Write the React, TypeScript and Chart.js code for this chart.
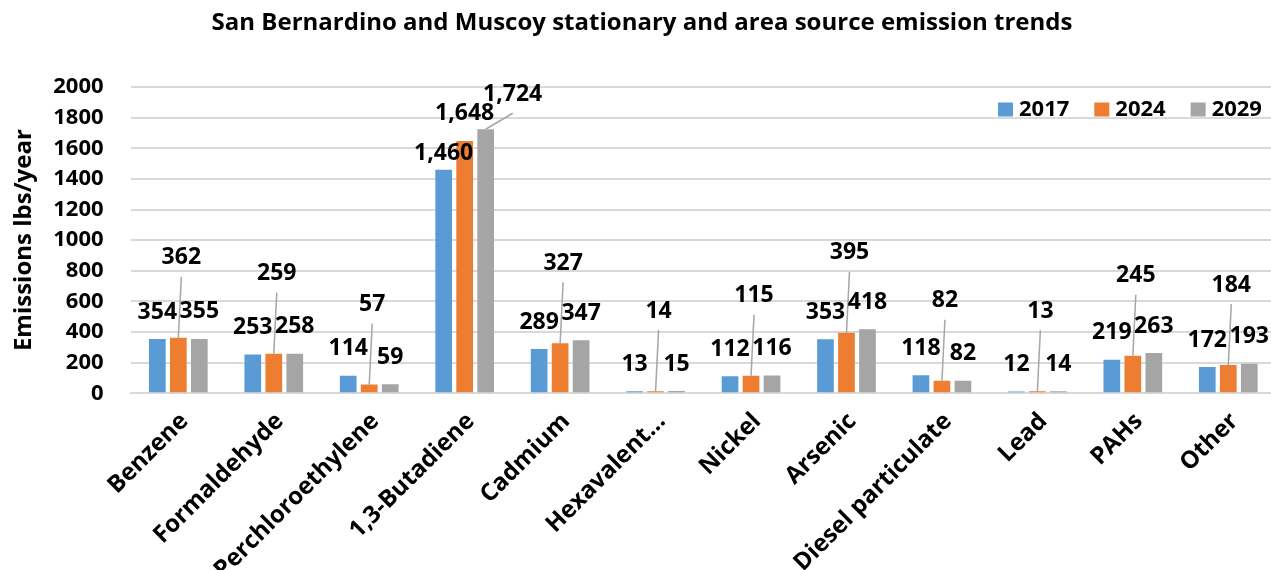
import React, { useEffect, useRef } from "react";
import { Chart, registerables } from "chart.js";

Chart.register(...registerables);

const categories = [
  "Benzene",
  "Formaldehyde",
  "Perchloroethylene",
  "1,3-Butadiene",
  "Cadmium",
  "Hexavalent…",
  "Nickel",
  "Arsenic",
  "Diesel particulate",
  "Lead",
  "PAHs",
  "Other",
];
const seriesNames = ["2017", "2024", "2029"];
const values2017 = [354, 253, 114, 1460, 289, 13, 112, 353, 118, 12, 219, 172];
const values2024 = [362, 259, 57, 1648, 327, 14, 115, 395, 82, 13, 245, 184];
const values2029 = [355, 258, 59, 1724, 347, 15, 116, 418, 82, 14, 263, 193];
const yMin = 0;
const yMax = 2000;
const yStep = 200;

const TITLE = "San Bernardino and Muscoy stationary and area source emission trends";
const Y_TITLE = "Emissions lbs/year";
const COLORS = ["#5B9BD5", "#ED7D31", "#A5A5A5"];
const FONT = "'Open Sans', Lato, sans-serif";
const GRID = "#D9D9D9";
const LEADER = "#A6A6A6";

const fmt = (v: number) => v.toLocaleString("en-US");

const decorPlugin = {
  id: "decor",
  afterDatasetsDraw(chart: any) {
    const ctx = chart.ctx as CanvasRenderingContext2D;
    ctx.save();
    ctx.font = `bold 23px ${FONT}`;
    ctx.textAlign = "center";
    ctx.textBaseline = "middle";
    chart.data.datasets.forEach((ds: any, di: number) => {
      const meta = chart.getDatasetMeta(di);
      meta.data.forEach((bar: any, i: number) => {
        const v = ds.data[i] as number;
        const crowded = categories[i] === "1,3-Butadiene";
        let x = bar.x;
        let y = bar.y - 27;
        let leader = false;
        if (di === 1) {
          if (crowded) {
            y = bar.y - 27;
          } else {
            x = bar.x + 3;
            y = bar.y - 80;
            leader = true;
          }
        }
        if (crowded && di === 0) y = bar.y - 16;
        if (crowded && di === 2) {
          x = bar.x + 27;
          y = bar.y - 35;
          leader = true;
        }
        if (leader) {
          ctx.strokeStyle = LEADER;
          ctx.lineWidth = 1.5;
          ctx.beginPath();
          ctx.moveTo(bar.x, bar.y);
          ctx.lineTo(x, y + 19);
          ctx.stroke();
        }
        ctx.fillStyle = "#000";
        ctx.fillText(fmt(v), x, y);
      });
    });
    ctx.restore();
  },
  afterDraw(chart: any) {
    const ctx = chart.ctx as CanvasRenderingContext2D;
    ctx.save();
    // title
    ctx.fillStyle = "#000";
    ctx.font = `bold 24px ${FONT}`;
    ctx.textAlign = "center";
    ctx.textBaseline = "middle";
    ctx.fillText(TITLE, 642, 23);
    // y axis title
    ctx.save();
    ctx.translate(24, (chart.chartArea.top + chart.chartArea.bottom) / 2);
    ctx.rotate(-Math.PI / 2);
    ctx.font = `bold 24px ${FONT}`;
    ctx.fillText(Y_TITLE, 0, 0);
    ctx.restore();
    // legend
    ctx.font = `bold 22px ${FONT}`;
    ctx.textAlign = "left";
    let lx = 998;
    const ly = 109.5;
    chart.data.datasets.forEach((ds: any) => {
      ctx.fillStyle = ds.backgroundColor;
      ctx.fillRect(lx, ly - 7, 15, 14);
      ctx.fillStyle = "#000";
      ctx.fillText(ds.label, lx + 21, ly);
      lx += 21 + ctx.measureText(ds.label).width + 25;
    });
    ctx.restore();
  },
};

export default function App() {
  const ref = useRef<HTMLCanvasElement | null>(null);
  useEffect(() => {
    if (!ref.current) return;
    const seriesValues = [values2017, values2024, values2029];
    const chart = new Chart(ref.current, {
      type: "bar",
      data: {
        labels: categories,
        datasets: seriesNames.map((name, k) => ({
          label: name,
          data: seriesValues[k],
          backgroundColor: COLORS[k],
          borderWidth: 0,
          barPercentage: 0.795,
          categoryPercentage: 0.66,
        })),
      },
      options: {
        responsive: false,
        animation: false,
        devicePixelRatio: 1,
        layout: { padding: { top: 87, left: 0, right: 0, bottom: 0 } },
        plugins: {
          legend: { display: false },
          title: { display: false },
          tooltip: { enabled: false },
        },
        scales: {
          x: {
            grid: { display: false },
            border: { display: true, color: GRID, width: 2 },
            ticks: {
              autoSkip: false,
              minRotation: 45,
              maxRotation: 45,
              padding: 6,
              labelOffset: 6,
              color: "#000",
              font: { family: FONT, size: 24, weight: "bold" },
            },
            afterFit: (s: any) => {
              s.height = 176.7;
            },
          },
          y: {
            min: yMin,
            max: yMax,
            border: { display: false },
            grid: { color: GRID, lineWidth: 2, drawTicks: false },
            ticks: {
              stepSize: yStep,
              padding: 27,
              color: "#000",
              font: { family: FONT, size: 22, weight: "bold" },
              callback: (v: any) => String(v),
            },
            afterFit: (s: any) => {
              s.width = 130.6;
            },
          },
        },
      },
      plugins: [decorPlugin],
    });
    return () => chart.destroy();
  }, []);
  return (
    <div
      style={{
        position: "absolute",
        left: 0,
        top: 0,
        width: 1271,
        height: 570,
        overflow: "hidden",
        background: "#fff",
      }}
    >
      <canvas ref={ref} width={1276} height={570} style={{ display: "block", width: 1276, height: 570 }} />
    </div>
  );
}
